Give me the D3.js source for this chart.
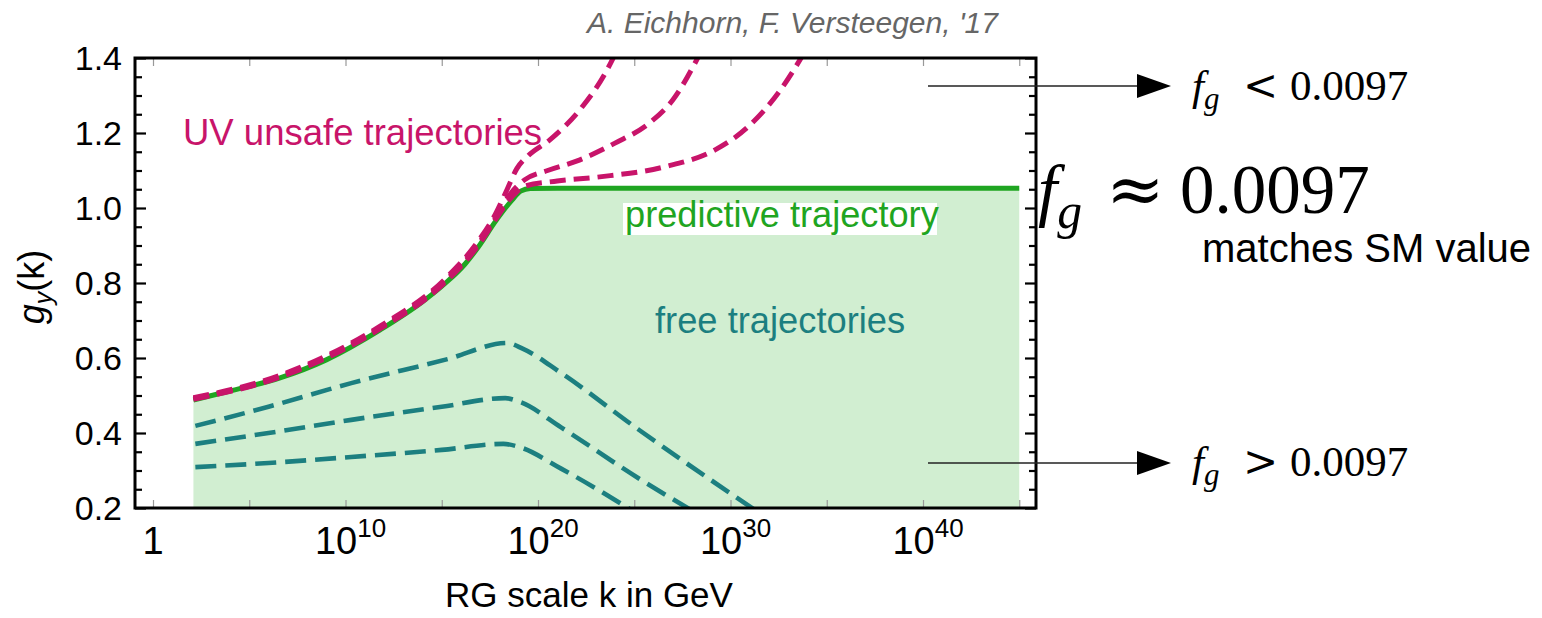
<!DOCTYPE html>
<html><head><meta charset="utf-8">
<script src="https://cdn.jsdelivr.net/npm/d3@7"></script>
<style>
body{margin:0;background:#fff;}
svg{display:block;}
text{font-family:"Liberation Sans",Arial,sans-serif;}
.math{font-family:"Liberation Serif","Times New Roman",serif;}
</style></head><body>
<svg id="c" width="1542" height="618"></svg>
<script>
// ---- data (x values are log10 of k in GeV) ----
const predictive = [[2.1,0.488],[4,0.512],[6.6,0.547],[9,0.595],[11.8,0.675],[14,0.75],[15.2,0.80],[16.2,0.85],[16.9,0.896],[17.8,0.965],[18.65,1.021],[19.1,1.045],[19.6,1.052],[21,1.053],[45,1.053]];
const unsafeA = [[2.1,0.494],[6.6,0.554],[11.8,0.685],[15.2,0.812],[16.9,0.912],[17.8,0.985],[18.4,1.05],[18.9,1.105],[19.5,1.14],[20.6,1.181],[22.3,1.27],[23.5,1.36],[24.1,1.42]];
const unsafeB = [[2.1,0.492],[6.6,0.551],[11.8,0.681],[15.2,0.807],[16.9,0.905],[17.8,0.975],[18.6,1.04],[19.3,1.075],[20.5,1.1],[22,1.125],[24,1.173],[25.8,1.227],[27,1.288],[28.5,1.42]];
const unsafeC = [[2.1,0.49],[6.6,0.549],[11.8,0.678],[15.2,0.803],[16.9,0.9],[17.8,0.97],[18.65,1.03],[19.3,1.058],[21,1.072],[23.2,1.083],[26.6,1.11],[29.2,1.155],[30.9,1.216],[32.6,1.315],[33.9,1.42]];
const freeA = [[2.2,0.419],[6,0.47],[10.3,0.533],[15.3,0.597],[18.4,0.64],[19.2,0.625],[21.2,0.56],[25.2,0.41],[31.4,0.19]];
const freeB = [[2.2,0.371],[6,0.40],[10.3,0.435],[15,0.47],[18.3,0.493],[19.1,0.482],[21.2,0.415],[25.2,0.28],[28.1,0.19]];
const freeC = [[2.2,0.309],[6,0.32],[10.3,0.336],[15,0.355],[18.2,0.371],[19.0,0.363],[21.2,0.305],[25.0,0.19]];
const xTickExp = [0,5,10,15,20,25,30,35,40,45];
const xLabelExp = [0,10,20,30,40];
const yTicksMajor = [0.2,0.4,0.6,0.8,1.0,1.2,1.4];
const yTicksMinor = [0.25,0.3,0.35,0.45,0.5,0.55,0.65,0.7,0.75,0.85,0.9,0.95,1.05,1.1,1.15,1.25,1.3,1.35];

const C_MAG = "#c8146a", C_TEAL = "#1c7f80", C_GREEN = "#1fa521", C_FILL = "#d1eed1";

const svg = d3.select("#c");
const L=135, R=1036, T=58, B=508;
const x = d3.scaleLog().domain([Math.pow(10,-0.935), Math.pow(10,45.87)]).range([L,R]);
const y = d3.scaleLinear().domain([0.2,1.4]).range([B,T]);
const px = d => x(Math.pow(10,d[0])), py = d => y(d[1]);

svg.append("defs").append("clipPath").attr("id","clip")
  .append("rect").attr("x",L).attr("y",T).attr("width",R-L).attr("height",B-T);
const g = svg.append("g").attr("clip-path","url(#clip)");

// fill under predictive trajectory
g.append("path").datum(predictive)
  .attr("d", d3.area().x(px).y0(y(0.2)).y1(py).curve(d3.curveMonotoneX))
  .attr("fill", C_FILL);

// ticks (inward)
const tickColor="#999";
const axB = svg.append("g").attr("transform",`translate(0,${B})`)
  .call(d3.axisBottom(x).tickValues(xTickExp.map(e=>Math.pow(10,e))).tickSize(-8).tickFormat(""));
const axT = svg.append("g").attr("transform",`translate(0,${T})`)
  .call(d3.axisTop(x).tickValues(xTickExp.map(e=>Math.pow(10,e))).tickSize(-8).tickFormat(""));
[axB,axT].forEach(a=>{a.select(".domain").remove(); a.selectAll("line").attr("stroke",tickColor).attr("stroke-width",1.2);});
const axL1 = svg.append("g").attr("transform",`translate(${L},0)`).call(d3.axisLeft(y).tickValues(yTicksMajor).tickSize(-11).tickFormat(""));
const axL2 = svg.append("g").attr("transform",`translate(${L},0)`).call(d3.axisLeft(y).tickValues(yTicksMinor).tickSize(-7).tickFormat(""));
const axR1 = svg.append("g").attr("transform",`translate(${R},0)`).call(d3.axisRight(y).tickValues(yTicksMajor).tickSize(-11).tickFormat(""));
const axR2 = svg.append("g").attr("transform",`translate(${R},0)`).call(d3.axisRight(y).tickValues(yTicksMinor).tickSize(-7).tickFormat(""));
[axL1,axL2,axR1,axR2].forEach(a=>{a.select(".domain").remove(); a.selectAll("line").attr("stroke","#000").attr("stroke-width",2.2);});

// curves
const line = d3.line().x(px).y(py).curve(d3.curveMonotoneX);
[freeA,freeB,freeC].forEach(s=>g.append("path").datum(s).attr("d",line)
  .attr("fill","none").attr("stroke",C_TEAL).attr("stroke-width",4.6).attr("stroke-dasharray","21 9"));
g.append("path").datum(predictive).attr("d",line).attr("fill","none")
  .attr("stroke",C_GREEN).attr("stroke-width",5);
[unsafeC,unsafeB,unsafeA].forEach(s=>g.append("path").datum(s).attr("d",line)
  .attr("fill","none").attr("stroke",C_MAG).attr("stroke-width",5).attr("stroke-dasharray","16 8"));

// frame
svg.append("rect").attr("x",L).attr("y",T).attr("width",R-L).attr("height",B-T)
  .attr("fill","none").attr("stroke","#000").attr("stroke-width",3);

// tick labels
svg.selectAll(".yl").data(yTicksMajor).join("text")
  .attr("x",122).attr("y",d=>y(d)).attr("dy","0.36em").attr("text-anchor","end")
  .attr("font-size",34).text(d=>d.toFixed(1));
xLabelExp.forEach(e=>{
  const t = svg.append("text").attr("y",554).attr("font-size",38).attr("text-anchor","middle");
  if(e===0){ t.attr("x",x(1)).text("1"); }
  else {
    t.attr("x",x(Math.pow(10,e))+5);
    t.append("tspan").text("10");
    t.append("tspan").attr("font-size",26).attr("dy",-17).text(String(e));
  }
});

// axis titles
svg.append("text").attr("x",589).attr("y",607).attr("text-anchor","middle").attr("font-size",35).text("RG scale k in GeV");
const yt = svg.append("text").attr("transform","translate(44,287) rotate(-90)").attr("text-anchor","middle").attr("font-size",36);
yt.append("tspan").attr("font-style","italic").text("g");
yt.append("tspan").attr("font-style","italic").attr("font-size",25).attr("dy",8).text("y");
yt.append("tspan").attr("dy",-8).text("(k)");

// annotations
svg.append("text").attr("x",587).attr("y",33).attr("font-size",30).attr("font-style","italic").attr("fill","#666")
  .text("A. Eichhorn, F. Versteegen, '17");
svg.append("text").attr("x",183).attr("y",145).attr("font-size",36.5).attr("fill",C_MAG).text("UV unsafe trajectories");
svg.append("rect").attr("x",623).attr("y",203).attr("width",314).attr("height",32).attr("fill","#fff");
svg.append("text").attr("x",625).attr("y",227).attr("font-size",36.2).attr("fill",C_GREEN).text("predictive trajectory");
svg.append("text").attr("x",655).attr("y",333).attr("font-size",36.3).attr("fill",C_TEAL).text("free trajectories");
svg.append("text").attr("x",1202).attr("y",262).attr("font-size",40).attr("fill","#000").text("matches SM value");

// arrows
function arrow(yy){
  svg.append("line").attr("x1",928).attr("x2",1140).attr("y1",yy).attr("y2",yy).attr("stroke","#222").attr("stroke-width",1.3);
  svg.append("path").attr("d",`M1137,${yy-12}L1171,${yy}L1137,${yy+12}Z`).attr("fill","#000");
}
arrow(86); arrow(463);

function mathLabel(xx,yy,fs,rel,relX,numX,relFs){
  const t = svg.append("text").attr("class","math").attr("y",yy).attr("font-size",fs);
  t.append("tspan").attr("x",xx).attr("font-style","italic").text("f");
  t.append("tspan").attr("font-style","italic").attr("font-size",fs*0.72).attr("dy",fs*0.22).text("g");
  t.append("tspan").attr("x",relX).attr("dy",-fs*0.22).attr("font-family","DejaVu Serif").attr("font-size",relFs).text(rel);
  t.append("tspan").attr("x",numX).text("0.0097");
}
mathLabel(1192,100,43,"<",1243,1290,42);
mathLabel(1192,476,43,">",1243,1290,42);
mathLabel(1038,213,69,"≈",1106,1180,70);
</script></body></html>
